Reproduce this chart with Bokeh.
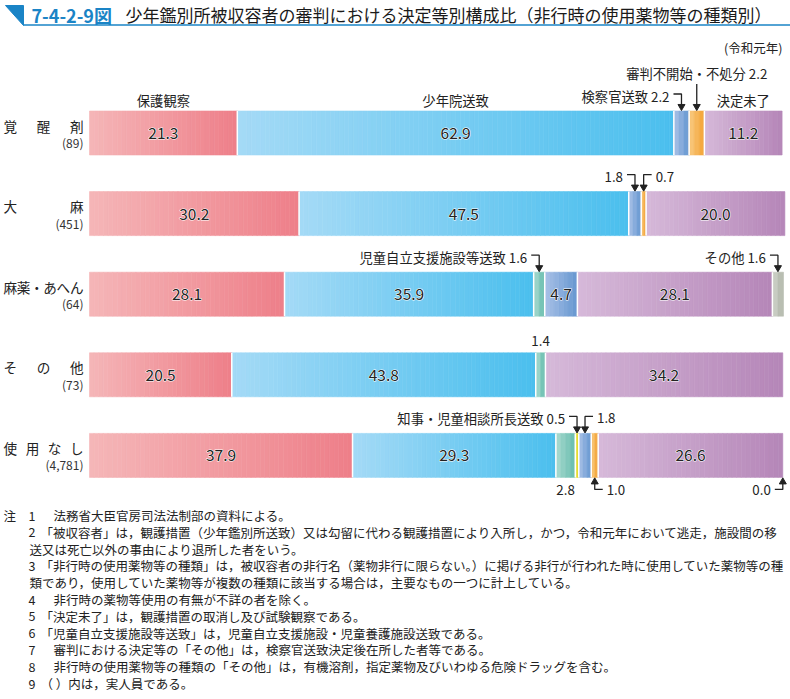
import numpy as np
from bokeh.plotting import figure
from bokeh.models import Range1d, ColumnDataSource
from bokeh.embed import file_html
from bokeh.resources import INLINE
from bokeh.core.properties import value

FONT = "Noto Sans CJK JP"

# ---------------- data ----------------
drugs = ["覚醒剤", "大麻", "麻薬・あへん", "その他", "使用なし"]
counts = ["(89)", "(451)", "(64)", "(73)", "(4,781)"]
categories = ["保護観察", "少年院送致", "児童自立支援施設等送致", "知事・児童相談所長送致",
              "検察官送致", "審判不開始・不処分", "決定未了", "その他"]
hogo      = [21.3, 30.2, 28.1, 20.5, 37.9]
shonenin  = [62.9, 47.5, 35.9, 43.8, 29.3]
jido      = [0.0, 0.0, 1.6, 1.4, 2.8]
chiji     = [0.0, 0.0, 0.0, 0.0, 0.5]
kensatsu  = [2.2, 1.8, 4.7, 0.0, 1.8]
fushinpan = [2.2, 0.7, 0.0, 0.0, 1.0]
miryo     = [11.2, 20.0, 28.1, 34.2, 26.6]
sonota    = [0.0, 0.0, 1.6, 0.0, 0.0]
series = [hogo, shonenin, jido, chiji, kensatsu, fushinpan, miryo, sonota]

colors_light = ["#f5b6b8", "#a4daf6", "#aadbd0", "#f4ee70", "#a9c1e7", "#f9cb82", "#d6b9d9", "#cfd3ca"]
colors_dark  = ["#ee7f89", "#4bbfee", "#66bcae", "#ddd51e", "#6697d0", "#f3a232", "#b586b8", "#b2b7aa"]

# annotations: (row, category index, placement, prefix)
annotations = [
    (0, 4, "above_left", "検察官送致"),
    (0, 5, "above_high", "審判不開始・不処分"),
    (1, 4, "above_left", ""),
    (1, 5, "above_right", ""),
    (2, 2, "above_left", "児童自立支援施設等送致"),
    (2, 7, "above_left", "その他"),
    (3, 2, "above_center", ""),
    (4, 3, "above_left", "知事・児童相談所長送致"),
    (4, 4, "above_right", ""),
    (4, 2, "below_center", ""),
    (4, 5, "below_right", ""),
    (4, 7, "below_left", ""),
]
header_cats = [0, 1, 6]

notes = [
    ("注", "1", "法務省大臣官房司法法制部の資料による。"),
    ("", "2", "「被収容者」は，観護措置（少年鑑別所送致）又は勾留に代わる観護措置により入所し，かつ，令和元年において逃走，施設間の移"),
    ("", "", "送又は死亡以外の事由により退所した者をいう。"),
    ("", "3", "「非行時の使用薬物等の種類」は，被収容者の非行名（薬物非行に限らない。）に掲げる非行が行われた時に使用していた薬物等の種"),
    ("", "", "類であり，使用していた薬物等が複数の種類に該当する場合は，主要なもの一つに計上している。"),
    ("", "4", "非行時の薬物等使用の有無が不詳の者を除く。"),
    ("", "5", "「決定未了」は，観護措置の取消し及び試験観察である。"),
    ("", "6", "「児童自立支援施設等送致」は，児童自立支援施設・児童養護施設送致である。"),
    ("", "7", "審判における決定等の「その他」は，検察官送致決定後在所した者等である。"),
    ("", "8", "非行時の使用薬物等の種類の「その他」は，有機溶剤，指定薬物及びいわゆる危険ドラッグを含む。"),
    ("", "9", "（ ）内は，実人員である。"),
]

title_no = "7-4-2-9図"
title_text = "少年鑑別所被収容者の審判における決定等別構成比（非行時の使用薬物等の種類別）"
unit_text = "(令和元年)"

# ---------------- layout ----------------
W, H = 790, 699
X0, Y0 = 0.0, 0.0
X1 = X0 + W
Y1 = Y0 + H

BAR_L, BAR_R = 89.0, 783.0
PPP = (BAR_R - BAR_L) / 100.0
ROW0, ROWSTEP = 132.5, 80.6
BAR_H = 44.0
HH = BAR_H / 2 / ROWSTEP


def px_x(n):
    return n / PPP


def px_y(n):
    return n / ROWSTEP


def mix(c1, c2, t):
    a = [int(c1[i:i + 2], 16) for i in (1, 3, 5)]
    b = [int(c2[i:i + 2], 16) for i in (1, 3, 5)]
    return "#%02x%02x%02x" % tuple(int(round(a[j] + (b[j] - a[j]) * t)) for j in range(3))


p = figure(width=W, height=H, output_backend="svg", toolbar_location=None,
           x_range=Range1d(X0, X1), y_range=Range1d(Y1, Y0),
           x_axis_type=None, y_axis_type=None, min_border=0,
           outline_line_color=None, background_fill_color="white",
           border_fill_color="white")
p.grid.visible = False
p.extra_x_ranges = {"pct": Range1d((X0 - BAR_L) / PPP, (X1 - BAR_L) / PPP)}
p.extra_y_ranges = {"row": Range1d((Y1 - ROW0) / ROWSTEP, (Y0 - ROW0) / ROWSTEP)}

# ---------------- bars (gradient strips) ----------------
nrow = len(drugs)
seg_left = np.zeros((nrow, len(series)))
sl, sr, sy, sc = [], [], [], []
sep_x, sep_y0, sep_y1 = [], [], []
for i in range(nrow):
    cum = 0.0
    nz = [k for k, s in enumerate(series) if s[i] > 0]
    for k, s in enumerate(series):
        v = s[i]
        seg_left[i, k] = cum
        if v > 0:
            n = max(2, int(round(v * 1.5)))
            edges = np.linspace(cum, cum + v, n + 1)
            for j in range(n):
                t = (j + 0.5) / n
                sl.append(edges[j]); sr.append(edges[j + 1]); sy.append(i)
                sc.append(mix(colors_light[k], colors_dark[k], t))
            if k != nz[-1]:
                sep_x.append(cum + v); sep_y0.append(i - HH); sep_y1.append(i + HH)
        cum += v

p.hbar(y="y", left="l", right="r", height=BAR_H / ROWSTEP, fill_color="c",
       line_color="c", line_width=0.6,
       source=ColumnDataSource(dict(y=sy, l=sl, r=sr, c=sc)),
       x_range_name="pct", y_range_name="row")
p.segment(x0=sep_x, y0=sep_y0, x1=sep_x, y1=sep_y1, line_color="white",
          line_width=1.5, x_range_name="pct", y_range_name="row")

# ---------------- values inside bars ----------------
vx, vy, vt = [], [], []
for i in range(nrow):
    for k, s in enumerate(series):
        v = s[i]
        if v >= 4.5:
            vx.append(seg_left[i, k] + v / 2); vy.append(i); vt.append(f"{v:.1f}")
val_src = ColumnDataSource(dict(x=vx, y=vy, t=vt))
# white halo underneath, dark text on top
p.text(x="x", y="y", text="t", source=val_src, text_font=value(FONT), text_font_size="15.5px",
       text_color="white", text_align="center", text_baseline="middle",
       text_outline_color="white", x_range_name="pct", y_range_name="row")
p.text(x="x", y="y", text="t", source=val_src, text_font=value(FONT), text_font_size="15.5px",
       text_color="#222222", text_align="center", text_baseline="middle",
       x_range_name="pct", y_range_name="row")

# ---------------- annotations ----------------
txt = {"left": ([], [], []), "right": ([], [], []), "center": ([], [], [])}
lxs, lys = [], []
hx, hy, hm = [], [], []
for (i, k, place, prefix) in annotations:
    v = series[k][i]
    c = seg_left[i, k] + v / 2
    label = (prefix + " " if prefix else "") + f"{v:.1f}"
    top = i - HH
    bot = i + HH
    if place in ("above_left", "above_right"):
        sgn = -1 if place == "above_left" else 1
        ly = top - px_y(17)
        lxs.append([c + sgn * px_x(8), c, c]); lys.append([ly, ly, top - px_y(5)])
        hx.append(c); hy.append(top - px_y(4.5)); hm.append("inverted_triangle")
        al = "right" if sgn < 0 else "left"
        txt[al][0].append(c + sgn * px_x(12)); txt[al][1].append(top - px_y(15)); txt[al][2].append(label)
    elif place == "above_high":
        lxs.append([c, c]); lys.append([top - px_y(27), top - px_y(5)])
        hx.append(c); hy.append(top - px_y(4.5)); hm.append("inverted_triangle")
        txt["center"][0].append(c); txt["center"][1].append(top - px_y(38)); txt["center"][2].append(label)
    elif place == "above_center":
        txt["center"][0].append(c); txt["center"][1].append(top - px_y(12)); txt["center"][2].append(label)
    elif place == "below_center":
        txt["center"][0].append(c); txt["center"][1].append(bot + px_y(13)); txt["center"][2].append(label)
    elif place in ("below_left", "below_right"):
        sgn = -1 if place == "below_left" else 1
        ly = bot + px_y(12)
        lxs.append([c + sgn * px_x(8), c, c]); lys.append([ly, ly, bot + px_y(5)])
        hx.append(c); hy.append(bot + px_y(4.5)); hm.append("triangle")
        al = "right" if sgn < 0 else "left"
        txt[al][0].append(c + sgn * px_x(12)); txt[al][1].append(bot + px_y(13)); txt[al][2].append(label)

for k in header_cats:
    v = series[k][0]
    c = seg_left[0, k] + v / 2
    txt["center"][0].append(c); txt["center"][1].append(-HH - px_y(11)); txt["center"][2].append(categories[k])

p.multi_line(xs=lxs, ys=lys, line_color="#222222", line_width=1.3,
             x_range_name="pct", y_range_name="row")
p.scatter(x="x", y="y", marker="m", size=7, fill_color="#222222", line_color="#222222",
          source=ColumnDataSource(dict(x=hx, y=hy, m=hm)),
          x_range_name="pct", y_range_name="row")
for al, (xx, yy, tt) in txt.items():
    p.text(x=xx, y=yy, text=tt, text_font=value(FONT), text_font_size="13.3px",
           text_color="#222222", text_align=al, text_baseline="middle",
           x_range_name="pct", y_range_name="row")

# ---------------- row labels ----------------
cx, cy, ct = [], [], []
char_w = 13.6
for i, name in enumerate(drugs):
    chars = list(name)
    n = len(chars)
    for j, ch in enumerate(chars):
        left = 3 + (j * (80 - char_w) / (n - 1) if n > 1 else 0)
        cx.append(left); cy.append(i - px_y(7.5)); ct.append(ch)
p.text(x=cx, y=cy, text=ct, text_font=value(FONT), text_font_size="13.6px",
       text_color="#222222", text_align="left", text_baseline="middle",
       y_range_name="row")
p.text(x=[83] * nrow, y=[i + px_y(9.5) for i in range(nrow)], text=counts,
       text_font=value(FONT), text_font_size="12px", text_color="#333333",
       text_align="right", text_baseline="middle", y_range_name="row")

# ---------------- title ----------------
BLUE = "#1a84c6"
p.patch(x=[5, 23, 23], y=[5, 5, 25], fill_color=BLUE, line_color=BLUE)
p.segment(x0=[23], y0=[24.5], x1=[795], y1=[24.5], line_color=BLUE, line_width=1.6)
p.text(x=[31], y=[14], text=[title_no], text_font=value(FONT), text_font_size="18px",
       text_font_style="bold", text_color=BLUE, text_baseline="middle")
p.text(x=[125], y=[14], text=[title_text], text_font=value(FONT), text_font_size="17px",
       text_color="#1a1a1a", text_baseline="middle")
p.text(x=[782], y=[47], text=[unit_text], text_font=value(FONT), text_font_size="12.5px",
       text_color="#222222", text_align="right", text_baseline="middle")

# ---------------- notes ----------------
nx1, ny1, nt1 = [], [], []
nx2, ny2, nt2 = [], [], []
for r, (head, num, body) in enumerate(notes):
    y = 515 + 16.8 * r
    if head:
        nx1.append(3); ny1.append(y); nt1.append(head)
    if num:
        nx1.append(28); ny1.append(y); nt1.append(num)
    if not num:
        bx = 29
    elif body[0] in "「（":
        bx = 40
    else:
        bx = 53
    nx2.append(bx); ny2.append(y); nt2.append(body)
p.text(x=nx1, y=ny1, text=nt1, text_font=value(FONT), text_font_size="12.5px",
       text_color="#222222", text_baseline="middle")
p.text(x=nx2, y=ny2, text=nt2, text_font=value(FONT), text_font_size="12.5px",
       text_color="#222222", text_baseline="middle")

open("out.html", "w").write(file_html(p, INLINE))
